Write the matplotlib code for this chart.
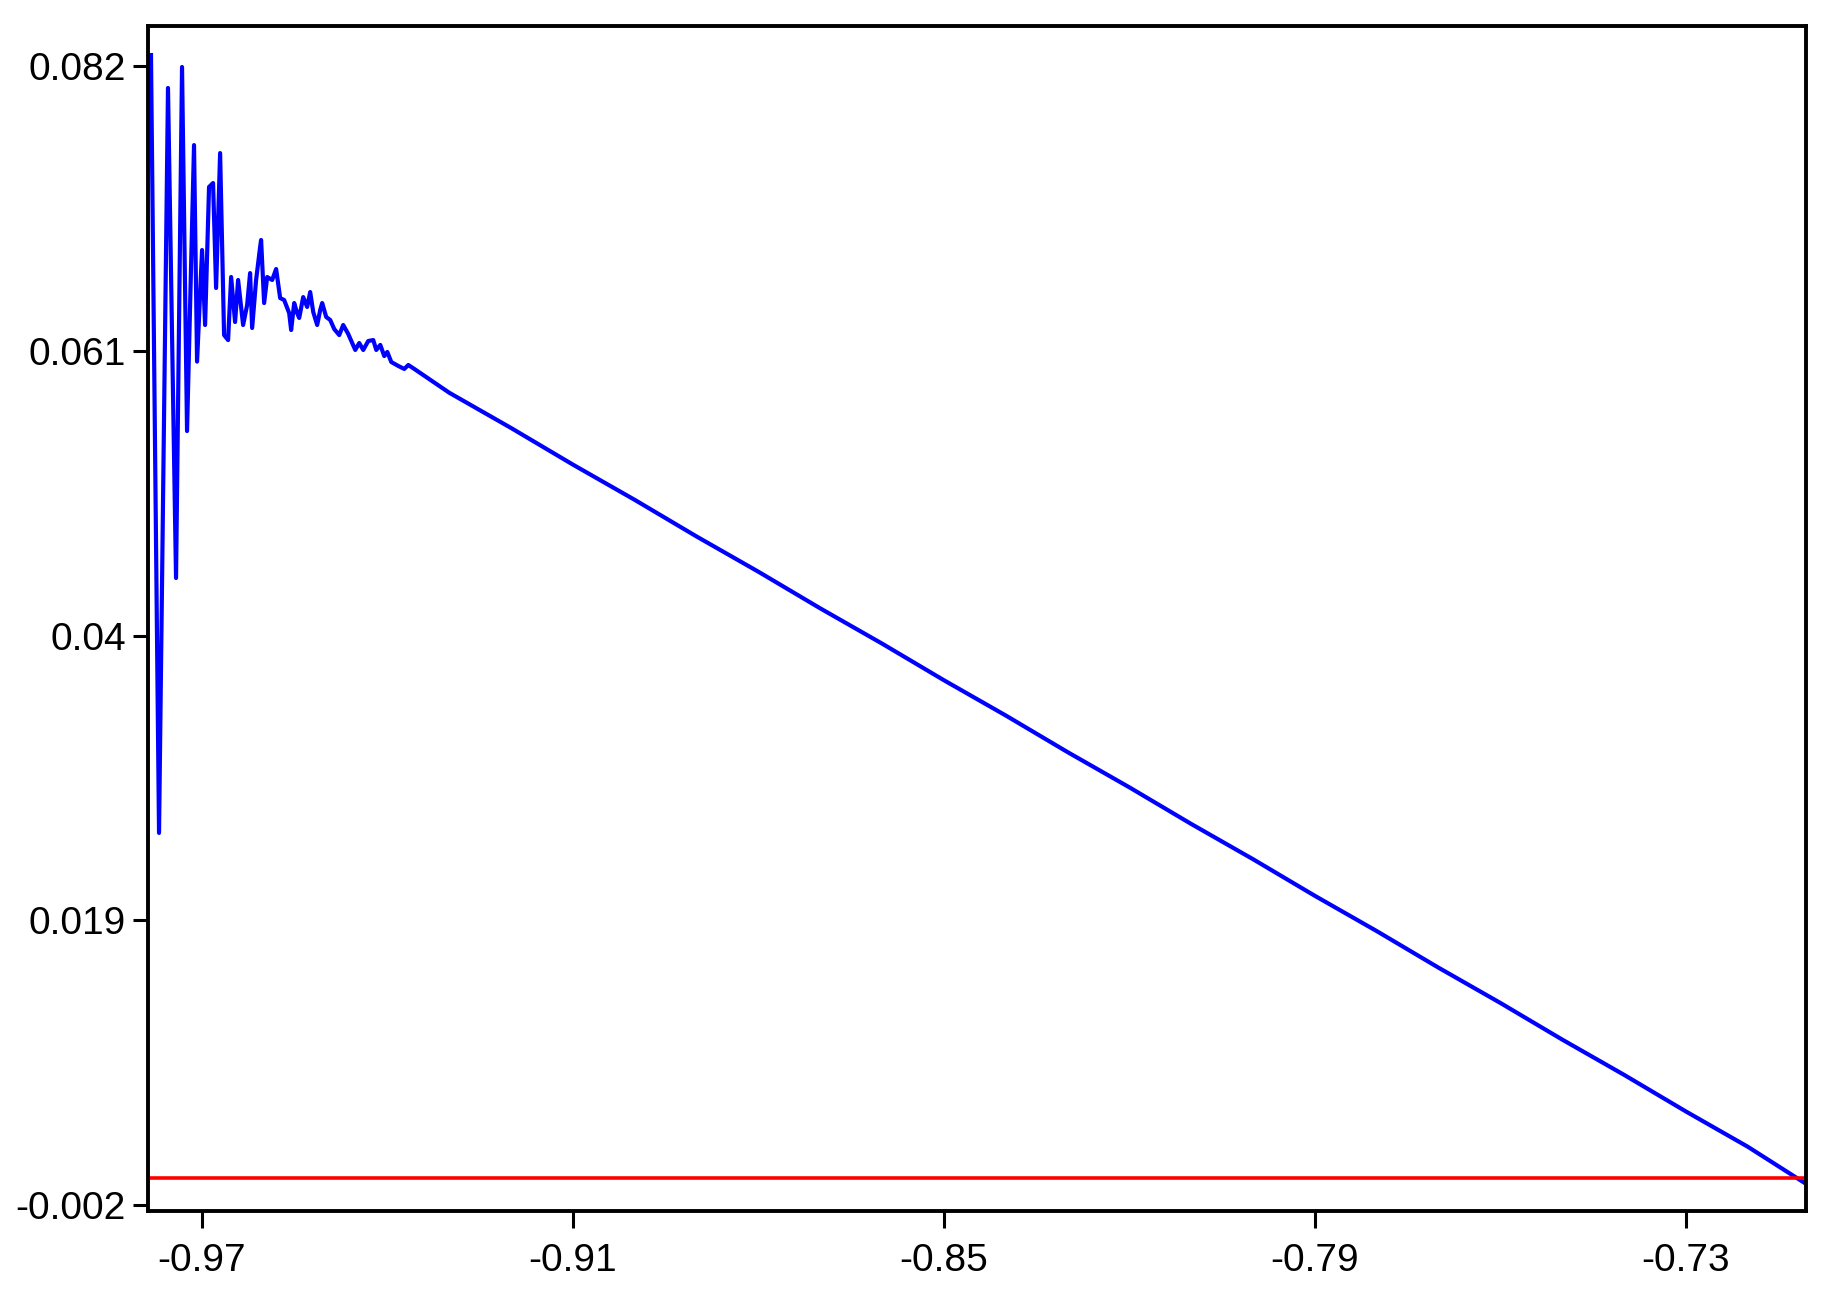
import matplotlib
matplotlib.use("Agg")
import matplotlib.pyplot as plt

# values
x_vals = [-0.97826, -0.97696, -0.97551, -0.97421, -0.97324, -0.97243, -0.97130, -0.97081,
          -0.97000, -0.96951, -0.96887, -0.96822, -0.96773, -0.96708, -0.96644, -0.96579,
          -0.96530, -0.96466, -0.96417, -0.96336, -0.96271, -0.96223, -0.96190, -0.96126,
          -0.96061, -0.96045, -0.95996, -0.95947, -0.95866, -0.95802, -0.95737, -0.95672,
          -0.95591, -0.95559, -0.95510, -0.95462, -0.95429, -0.95364, -0.95300, -0.95251,
          -0.95202, -0.95138, -0.95089, -0.95057, -0.94992, -0.94927, -0.94862, -0.94781,
          -0.94717, -0.94636, -0.94522, -0.94458, -0.94393, -0.94312, -0.94231, -0.94182,
          -0.94117, -0.94053, -0.94004, -0.93939, -0.93826, -0.93729, -0.93664, -0.93567,
          -0.93, -0.92, -0.91, -0.90, -0.89, -0.88, -0.87, -0.86, -0.85, -0.84, -0.83,
          -0.82, -0.81, -0.80, -0.79, -0.78, -0.77, -0.76, -0.75, -0.74, -0.73, -0.72,
          -0.7107]
y_vals = [0.08281, 0.02544, 0.08038, 0.04424, 0.08193, 0.05508, 0.07617, 0.06020,
          0.06843, 0.06290, 0.07308, 0.07337, 0.06563, 0.07558, 0.06216, 0.06179,
          0.06644, 0.06312, 0.06622, 0.06290, 0.06437, 0.06673, 0.06268, 0.06622,
          0.06865, 0.06917, 0.06452, 0.06644, 0.06622, 0.06703, 0.06489, 0.06474,
          0.06378, 0.06253, 0.06452, 0.06378, 0.06342, 0.06496, 0.06423, 0.06533,
          0.06386, 0.06290, 0.06401, 0.06452, 0.06349, 0.06327, 0.06260, 0.06216,
          0.06290, 0.06224, 0.06106, 0.06157, 0.06106, 0.06172, 0.06179, 0.06106,
          0.06143, 0.06061, 0.06091, 0.06017, 0.05988, 0.05966, 0.05995, 0.05966,
          0.0579, 0.0553, 0.0526, 0.0500, 0.0473, 0.0447, 0.0420, 0.0394, 0.0367, 0.0341,
          0.0314, 0.0288, 0.0261, 0.0235, 0.0208, 0.0182, 0.0155, 0.0129, 0.0102, 0.0076,
          0.0049, 0.0023, -0.0004]
ref_level = 0.0

x_ticks = [-0.97, -0.91, -0.85, -0.79, -0.73]
y_ticks = [-0.002, 0.019, 0.04, 0.061, 0.082]
y_labels = ["-0.002", "0.019", "0.04", "0.061", "0.082"]

fig = plt.figure(figsize=(18.32, 12.95), dpi=100)
ax = fig.add_axes([0.0808, 0.0649, 0.9050, 0.9150])

ax.plot(x_vals, y_vals, color="#0000ff", lw=3.0)
ax.axhline(ref_level, color="#ff0000", lw=2.6)

ax.set_xlim(-0.97874, -0.71057)
ax.set_ylim(-0.00244, 0.08495)
ax.set_xticks(x_ticks)
ax.set_xticklabels([f"{v:.2f}" for v in x_ticks])
ax.set_yticks(y_ticks)
ax.set_yticklabels(y_labels)
for lab in ax.get_xticklabels() + ax.get_yticklabels():
    lab.set_family("Liberation Sans")
    lab.set_fontsize(28)
ax.tick_params(axis="x", length=12, width=2.2, pad=11)
ax.tick_params(axis="y", length=11, width=2.2, pad=5)
for sp in ax.spines.values():
    sp.set_linewidth(2.8)

fig.savefig("out.png", dpi=100)
